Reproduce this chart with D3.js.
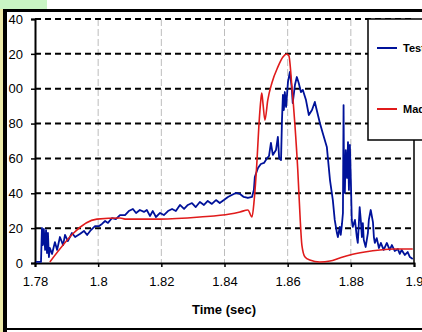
<!DOCTYPE html>
<html><head><meta charset="utf-8">
<script src="https://cdn.jsdelivr.net/npm/d3@7"></script>
<style>body{margin:0;background:#fff;}svg{display:block;}</style>
</head><body>
<svg id="c" width="422" height="332"></svg>
<script>
const xTicks = [1.78, 1.8, 1.82, 1.84, 1.86, 1.88, 1.9];
const xTickLabels = ["1.78", "1.8", "1.82", "1.84", "1.86", "1.88", "1.9"];
const yTicks = [0, 20, 40, 60, 80, 100, 120, 140];
const yTickLabels = ["0", "20", "40", "60", "80", "00", "20", "40"];
const seriesNames = ["Test", "Madymo"];
const testTime = [1.7803,1.7819,1.7822,1.7825,1.7828,1.7832,1.7835,1.7838,1.7841,1.7844,1.7847,1.7854,1.7863,1.7870,1.7879,1.7889,1.7895,1.7904,1.7917,1.7927,1.7942,1.7955,1.7965,1.7977,1.7990,1.8003,1.8012,1.8022,1.8031,1.8044,1.8056,1.8069,1.8085,1.8097,1.8110,1.8120,1.8132,1.8145,1.8154,1.8164,1.8173,1.8183,1.8196,1.8208,1.8221,1.8234,1.8246,1.8259,1.8272,1.8284,1.8297,1.8309,1.8322,1.8335,1.8347,1.8360,1.8373,1.8385,1.8398,1.8411,1.8423,1.8436,1.8449,1.8461,1.8474,1.8487,1.8493,1.8496,1.8506,1.8515,1.8525,1.8535,1.8541,1.8547,1.8553,1.8563,1.8569,1.8573,1.8579,1.8582,1.8585,1.8588,1.8591,1.8595,1.8601,1.8607,1.8613,1.8616,1.8623,1.8629,1.8635,1.8642,1.8648,1.8658,1.8667,1.8677,1.8686,1.8692,1.8702,1.8711,1.8724,1.8734,1.8743,1.8749,1.8756,1.8759,1.8765,1.8768,1.8772,1.8775,1.8777,1.8778,1.8781,1.8784,1.8788,1.8791,1.8794,1.8797,1.8800,1.8803,1.8806,1.8813,1.8819,1.8822,1.8825,1.8828,1.8832,1.8835,1.8838,1.8841,1.8847,1.8854,1.8857,1.8863,1.8870,1.8873,1.8876,1.8882,1.8889,1.8895,1.8904,1.8914,1.8923,1.8930,1.8939,1.8949,1.8955,1.8961,1.8971,1.8980,1.8987,1.8996];
const testValue = [0.6,0.6,20.1,10.3,19.5,7.5,18.9,5.7,17.2,3.4,8.6,5.2,12.0,7.5,14.9,10.3,16.1,12.6,17.2,14.9,16.6,18.4,16.1,18.9,21.2,21.2,22.4,24.1,23.0,25.8,25.2,27.5,27.5,29.8,31.0,28.7,30.4,29.3,30.4,27.0,29.8,26.4,28.7,27.5,29.8,31.0,29.8,33.3,31.0,33.3,34.4,32.1,35.0,33.3,35.6,33.9,36.1,34.4,36.1,37.9,39.0,40.2,39.6,37.9,37.3,37.9,41.9,49.3,54.5,56.8,57.4,60.2,61.4,68.9,62.0,64.8,72.3,60.2,59.1,82.0,96.4,87.8,98.1,89.5,103.9,109.6,100.4,91.8,102.1,106.7,103.3,98.1,99.3,93.5,84.9,87.8,92.4,87.8,80.3,74.6,66.6,47.6,36.1,24.7,17.2,14.9,20.7,16.1,22.4,28.7,90.6,59.1,40.2,64.8,48.8,69.4,41.9,67.7,47.6,24.7,20.7,24.7,14.9,11.5,21.2,32.1,23.5,14.9,22.9,13.2,9.2,17.2,24.7,30.4,23.5,14.9,11.5,14.3,8.6,11.5,7.5,11.5,7.5,10.3,6.9,8.0,5.2,7.5,4.6,6.3,3.4,2.3];
const modelTime = [1.7847,1.7996,1.8069,1.8085,1.8196,1.8322,1.8417,1.8449,1.8474,1.8487,1.8494,1.8503,1.8509,1.8515,1.8518,1.8522,1.8528,1.8537,1.8550,1.8569,1.8585,1.8597,1.8604,1.8613,1.8623,1.8632,1.8639,1.8645,1.8655,1.8670,1.8702,1.8734,1.8765,1.8797,1.8844,1.8892,1.8939,1.8996];
const modelValue = [0.6,25.2,25.8,25.2,25.2,26.4,28.1,29.3,30.4,26.4,36.1,59.1,79.2,93.5,97.5,91.2,82.0,93.5,103.3,112.5,118.2,119.9,118.8,102.1,79.2,53.4,27.5,10.3,3.4,1.7,0.6,1.1,2.9,4.6,6.3,7.5,8.0,8.0];

const svg = d3.select("#c");
const W = 422, H = 332;
const x = d3.scaleLinear().domain([1.78, 1.9]).range([35, 414]);
const y = d3.scaleLinear().domain([0, 140]).range([263, 19]);

// background decorations
svg.append("rect").attr("x",0).attr("y",0).attr("width",W).attr("height",H).attr("fill","#fff");
svg.append("rect").attr("x",0).attr("y",0).attr("width",47).attr("height",9).attr("fill","#c9f5c4");
svg.append("rect").attr("x",0).attr("y",9).attr("width",3).attr("height",H-9).attr("fill","#ece9a8");

// vertical gridlines
svg.append("g").selectAll("line").data(xTicks.slice(1, -1)).join("line")
  .attr("x1", d => x(d)).attr("x2", d => x(d)).attr("y1", y(140)).attr("y2", y(0))
  .attr("stroke", "#bdbdbd").attr("stroke-width", 1).attr("stroke-dasharray", "7,3");

// horizontal gridlines
svg.append("g").selectAll("line").data(yTicks.slice(1)).join("line")
  .attr("x1", x(1.78)).attr("x2", x(1.9)).attr("y1", d => y(d)).attr("y2", d => y(d))
  .attr("stroke", "#000").attr("stroke-width", 2).attr("stroke-dasharray", "6,4");

// axes
const yAxis = d3.axisLeft(y).tickValues(yTicks).tickFormat((d, i) => yTickLabels[i]).tickSize(4).tickPadding(8);
const gy = svg.append("g").attr("transform", `translate(${x(1.78)},0)`).call(yAxis);
const xAxis = d3.axisBottom(x).tickValues(xTicks).tickFormat((d, i) => xTickLabels[i]).tickSize(4).tickPadding(10);
const gx = svg.append("g").attr("transform", `translate(0,${y(0)})`).call(xAxis);
[gx, gy].forEach(g => {
  g.select(".domain").attr("stroke", "#000").attr("stroke-width", 2);
  g.selectAll(".tick line").attr("stroke", "#000").attr("stroke-width", 1.5);
  g.selectAll(".tick text").attr("fill", "#000").style("font-family", "Arial, 'Liberation Sans', sans-serif").style("font-size", "13px");
});
// right frame line
svg.append("line").attr("x1", x(1.9)).attr("x2", x(1.9)).attr("y1", y(140)).attr("y2", y(0))
  .attr("stroke", "#000").attr("stroke-width", 1.5);

// series
const line = d3.line().x(d => x(d[0])).y(d => y(d[1]));
const testData = testTime.map((t, i) => [t, testValue[i]]);
const modelData = modelTime.map((t, i) => [t, modelValue[i]]);
svg.append("path").datum(testData).attr("d", line).attr("fill", "none")
  .attr("stroke", "#00129a").attr("stroke-width", 1.8).attr("stroke-linejoin", "round");
svg.append("path").datum(modelData).attr("d", d3.line().x(d => x(d[0])).y(d => y(d[1])).curve(d3.curveMonotoneX))
  .attr("fill", "none").attr("stroke", "#e01b1b").attr("stroke-width", 1.6).attr("stroke-linejoin", "round");

// legend
const lg = svg.append("g");
lg.append("rect").attr("x", 368).attr("y", y(140)).attr("width", 80).attr("height", 121)
  .attr("fill", "#fff").attr("stroke", "#000").attr("stroke-width", 1.5);
const legendColors = ["#00129a", "#e01b1b"];
const legendY = [48, 109];
seriesNames.forEach((n, i) => {
  lg.append("line").attr("x1", 377).attr("x2", 397).attr("y1", legendY[i]).attr("y2", legendY[i])
    .attr("stroke", legendColors[i]).attr("stroke-width", 2);
  lg.append("text").attr("x", 403).attr("y", legendY[i]).attr("dy", "0.35em").text(n)
    .style("font-family", "Arial, 'Liberation Sans', sans-serif").style("font-size", "11px").style("font-weight", "bold");
});

// x title
svg.append("text").attr("x", 224).attr("y", 309).attr("dy", "0.35em").attr("text-anchor", "middle")
  .text("Time (sec)").style("font-family", "Arial, 'Liberation Sans', sans-serif").style("font-size", "13px").style("font-weight", "bold");

// outer frame
svg.append("line").attr("x1", 5).attr("x2", 5).attr("y1", 9).attr("y2", H).attr("stroke", "#000").attr("stroke-width", 4);
svg.append("line").attr("x1", 3).attr("x2", W).attr("y1", 10.5).attr("y2", 10.5).attr("stroke", "#000").attr("stroke-width", 3);
svg.append("line").attr("x1", 3).attr("x2", W).attr("y1", 329).attr("y2", 329).attr("stroke", "#000").attr("stroke-width", 2);
</script>
</body></html>
